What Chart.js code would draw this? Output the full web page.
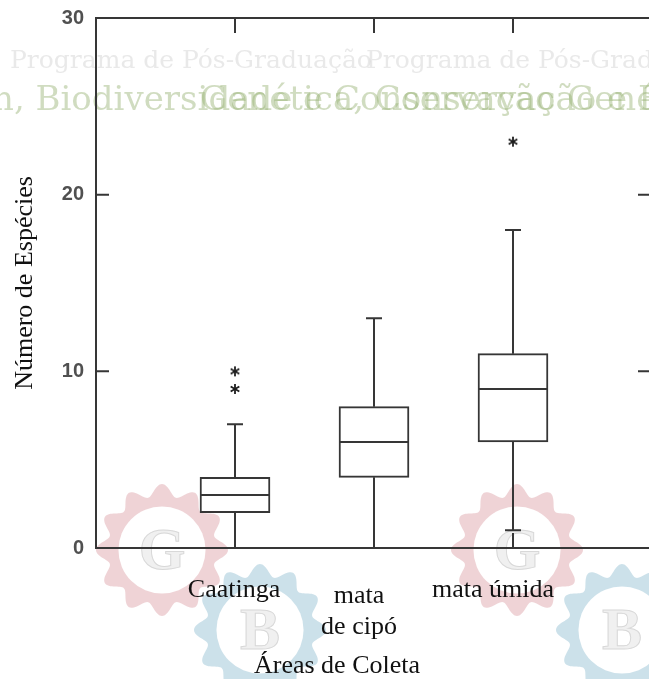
<!DOCTYPE html>
<html>
<head>
<meta charset="utf-8">
<script src="https://cdn.jsdelivr.net/npm/chart.js@4.4.1/dist/chart.umd.min.js"></script>
<style>
  html, body { margin: 0; padding: 0; overflow: hidden; background: #fff; }
</style>
</head>
<body>
<canvas id="boxes" width="660" height="679"></canvas>
<script>
// number of species per sampling area (box plot summary)
var areas = ['Caatinga', 'mata de cipó', 'mata úmida'];
var areaLines = [['Caatinga'], ['mata', 'de cipó'], ['mata úmida']];
var whiskerLow = [0, 0, 1];
var quart1 = [2, 4, 6];
var medians = [3, 6, 9];
var quart3 = [4, 8, 11];
var whiskerHigh = [7, 13, 18];
var outliers = [[9, 10], [], [23]];
var yTicks = [0, 10, 20, 30];

var ink = '#363636';
var serif = '"Liberation Serif", "Times New Roman", serif';

// small offsets of the category captions under the axis
var captionShift = [-1, -15, -20];
var captionBase = [49, 55, 49];

function asterisk() {
  var c = document.createElement('canvas');
  c.width = 14; c.height = 14;
  var g = c.getContext('2d');
  g.strokeStyle = '#1e1e1e';
  g.lineWidth = 1.8;
  g.translate(7, 7);
  for (var k = 0; k < 3; k++) {
    var a = Math.PI / 2 + k * Math.PI / 3;
    g.beginPath();
    g.moveTo(-5 * Math.cos(a), -5 * Math.sin(a));
    g.lineTo(5 * Math.cos(a), 5 * Math.sin(a));
    g.stroke();
  }
  return c;
}

function gear(ctx, cx, cy, r, fill, letter) {
  ctx.save();
  ctx.fillStyle = fill;
  ctx.beginPath();
  for (var k = 0; k <= 360; k++) {
    var a = k / 360 * Math.PI * 2;
    var rr = r - 6 + 6 * Math.cos(12 * a);
    var px = cx + rr * Math.cos(a), py = cy + rr * Math.sin(a);
    if (k === 0) ctx.moveTo(px, py); else ctx.lineTo(px, py);
  }
  ctx.fill();
  ctx.fillStyle = '#fff';
  ctx.beginPath();
  ctx.arc(cx, cy, r * 0.66, 0, Math.PI * 2);
  ctx.fill();
  ctx.font = 'bold 60px ' + serif;
  ctx.textAlign = 'center';
  ctx.textBaseline = 'middle';
  ctx.fillStyle = '#f0f0f0';
  ctx.strokeStyle = '#d8d8d8';
  ctx.lineWidth = 1;
  ctx.fillText(letter, cx, cy + 3);
  ctx.strokeText(letter, cx, cy + 3);
  ctx.restore();
}

var watermark = {
  id: 'watermark',
  beforeDraw: function (chart) {
    var ctx = chart.ctx;
    ctx.save();
    ctx.font = '25px "DejaVu Serif", serif';
    ctx.fillStyle = 'rgba(200,200,200,0.4)';
    ctx.fillText('Programa de Pós-Graduação', 10, 68);
    ctx.fillText('Programa de Pós-Graduação', 366, 68);
    ctx.font = '34px "DejaVu Serif", serif';
    ctx.fillStyle = 'rgba(150,178,115,0.45)';
    ctx.fillText('n, Biodiversidade e Conservação', -8, 110);
    ctx.fillText('Genética, Conservação e Biodiversidade', 200, 110);
    ctx.fillText('Genética', 567, 110);
    ctx.restore();
    gear(ctx, 162, 550, 66, 'rgba(225,175,180,0.55)', 'G');
    gear(ctx, 517, 550, 66, 'rgba(225,175,180,0.55)', 'G');
    gear(ctx, 260, 630, 66, 'rgba(170,205,220,0.6)', 'B');
    gear(ctx, 622, 630, 66, 'rgba(170,205,220,0.6)', 'B');
  }
};

var boxParts = {
  id: 'boxParts',
  beforeDatasetsDraw: function (chart) {
    var ctx = chart.ctx, a = chart.chartArea;
    var xs = chart.scales.x, ys = chart.scales.y;
    ctx.save();
    ctx.strokeStyle = ink;
    ctx.lineWidth = 2;
    ctx.strokeRect(a.left, a.top, a.right - a.left, a.bottom - a.top);
    ctx.beginPath();
    yTicks.slice(1, -1).forEach(function (v) {
      var y = ys.getPixelForValue(v);
      ctx.moveTo(a.left, y); ctx.lineTo(a.left + 13, y);
      ctx.moveTo(a.right, y); ctx.lineTo(a.right - 14, y);
    });
    areas.forEach(function (n, i) {
      var x = xs.getPixelForValue(i + 1);
      ctx.moveTo(x, a.top); ctx.lineTo(x, a.top + 15);
      ctx.moveTo(x, a.bottom); ctx.lineTo(x, a.bottom - 15);
    });
    ctx.stroke();
    ctx.restore();
  },
  afterDatasetsDraw: function (chart) {
    var ctx = chart.ctx, a = chart.chartArea;
    var xs = chart.scales.x, ys = chart.scales.y;
    var bars = chart.getDatasetMeta(0).data;
    ctx.save();
    ctx.strokeStyle = ink;
    ctx.lineWidth = 2;
    ctx.beginPath();
    areas.forEach(function (n, i) {
      var x = xs.getPixelForValue(i + 1);
      var half = bars[i].width / 2;
      var ym = ys.getPixelForValue(medians[i]);
      ctx.moveTo(x - half, ym); ctx.lineTo(x + half, ym);
      ctx.moveTo(x, ys.getPixelForValue(quart3[i])); ctx.lineTo(x, ys.getPixelForValue(whiskerHigh[i]));
      ctx.moveTo(x, ys.getPixelForValue(quart1[i])); ctx.lineTo(x, ys.getPixelForValue(whiskerLow[i]));
      var yh = ys.getPixelForValue(whiskerHigh[i]), yl = ys.getPixelForValue(whiskerLow[i]);
      ctx.moveTo(x - 8, yh); ctx.lineTo(x + 8, yh);
      ctx.moveTo(x - 8, yl); ctx.lineTo(x + 8, yl);
    });
    ctx.stroke();

    // category captions and the x axis title
    ctx.fillStyle = '#111';
    ctx.font = '26px ' + serif;
    ctx.textAlign = 'center';
    ctx.textBaseline = 'alphabetic';
    areaLines.forEach(function (lines, i) {
      var x = xs.getPixelForValue(i + 1) + captionShift[i];
      lines.forEach(function (t, j) {
        ctx.fillText(t, x, a.bottom + captionBase[i] + j * 31);
      });
    });
    ctx.fillText('Áreas de Coleta', xs.getPixelForValue(2) - 37, a.bottom + 125);
    ctx.restore();
  }
};

var boxData = areas.map(function (n, i) {
  return { x: i + 1, y: [quart1[i], quart3[i]] };
});
var outlierData = [];
outliers.forEach(function (list, i) {
  list.forEach(function (v) { outlierData.push({ x: i + 1, y: v }); });
});

new Chart(document.getElementById('boxes'), {
  type: 'bar',
  data: {
    datasets: [{
      type: 'bar',
      data: boxData,
      backgroundColor: '#fff',
      borderColor: ink,
      borderWidth: 2,
      borderSkipped: false,
      barThickness: 70
    }, {
      type: 'scatter',
      data: outlierData,
      pointStyle: asterisk(),
      pointRadius: 7
    }]
  },
  options: {
    responsive: false,
    animation: false,
    devicePixelRatio: 1,
    layout: { padding: { top: 18, right: 7, left: 0, bottom: 0 } },
    plugins: { legend: { display: false }, tooltip: { enabled: false } },
    scales: {
      x: {
        type: 'linear', min: 0, max: 4, offset: false,
        ticks: { display: false },
        grid: { display: false, drawTicks: false, offset: false },
        border: { display: false },
        afterFit: function (s) { s.height = 131; }
      },
      y: {
        min: 0, max: 30,
        ticks: { stepSize: 10, padding: 12, color: '#505050', font: { family: '"Liberation Sans", Arial, sans-serif', size: 20, weight: 'bold' } },
        grid: { display: false, drawTicks: false },
        border: { display: false },
        title: { display: true, text: 'Número de Espécies', color: '#111', font: { family: serif, size: 26 }, padding: { top: 10, bottom: 0 } },
        afterFit: function (s) {
          s.width = 96;
          s.paddingTop = 0;
          s.paddingBottom = 0;
        }
      }
    }
  },
  plugins: [watermark, boxParts]
});
</script>
</body>
</html>
